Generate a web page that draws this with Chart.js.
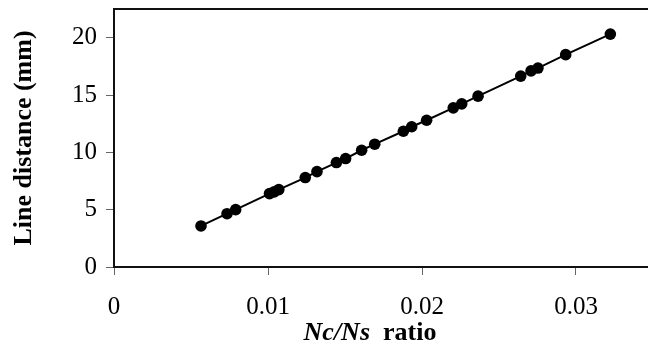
<!DOCTYPE html>
<html>
<head>
<meta charset="utf-8">
<script src="https://cdn.jsdelivr.net/npm/chart.js@4/dist/chart.umd.min.js"></script>
<style>
html,body{margin:0;padding:0;background:#fff;overflow:hidden;}
#wrap{position:relative;width:660px;height:347px;}
canvas{display:block;}
</style>
</head>
<body>
<div id="wrap"><canvas id="c" width="660" height="347"></canvas></div>
<script>
// Data
const ncNsRatio = [0.00565, 0.00734, 0.0079, 0.0101, 0.0104, 0.0107, 0.01242, 0.01318, 0.01444, 0.01504, 0.01608, 0.01693, 0.01879, 0.01933, 0.0203, 0.02203, 0.02258, 0.02364, 0.02641, 0.02708, 0.02753, 0.02933, 0.03223];
const lineDistance = [3.58, 4.65, 5.0, 6.4, 6.55, 6.75, 7.8, 8.32, 9.11, 9.46, 10.18, 10.71, 11.84, 12.23, 12.8, 13.88, 14.23, 14.9, 16.65, 17.1, 17.35, 18.52, 20.31];
const xTicks = [0, 0.01, 0.02, 0.03];
const yTicks = [0, 5, 10, 15, 20];
const xTitleItalic = 'Nc/Ns';
const xTitleBold = 'ratio';
const yTitle = 'Line distance (mm)';

const points = ncNsRatio.map((x, i) => ({x: x, y: lineDistance[i]}));
const serif = '"Liberation Serif", "Times New Roman", serif';

const framePlugin = {
  id: 'frame',
  afterDatasetsDraw(chart) {
    const a = chart.chartArea, ctx = chart.ctx;
    ctx.save();
    ctx.strokeStyle = '#111';
    ctx.lineWidth = 2;
    ctx.strokeRect(a.left, a.top, a.right - a.left, a.bottom - a.top);
    ctx.restore();
  },
  afterDraw(chart) {
    const ctx = chart.ctx;
    ctx.save();
    ctx.fillStyle = '#000';
    ctx.textBaseline = 'alphabetic';
    ctx.textAlign = 'left';
    ctx.font = 'italic bold 26px ' + serif;
    const w1 = ctx.measureText(xTitleItalic).width;
    ctx.font = 'bold 26px ' + serif;
    const w2 = ctx.measureText(xTitleBold).width;
    const gap = 13;
    const total = w1 + gap + w2;
    const cx = 370;
    const x0 = cx - total / 2;
    const base = 340;
    ctx.font = 'italic bold 26px ' + serif;
    ctx.fillText(xTitleItalic, x0, base);
    ctx.font = 'bold 26px ' + serif;
    ctx.fillText(xTitleBold, x0 + w1 + gap, base);
    ctx.restore();
  }
};

function noPad(s) { s.paddingTop = 0; s.paddingBottom = 0; s.paddingLeft = 0; s.paddingRight = 0; }

new Chart(document.getElementById('c'), {
  type: 'scatter',
  data: {
    datasets: [{
      data: points,
      showLine: true,
      borderColor: '#000',
      borderWidth: 2,
      backgroundColor: '#000',
      pointBackgroundColor: '#000',
      pointBorderColor: '#000',
      pointRadius: 5.8,
      pointBorderWidth: 0,
      tension: 0
    }]
  },
  options: {
    responsive: false,
    animation: false,
    layout: {padding: {top: 9, right: 7, left: 0, bottom: 0}},
    plugins: {legend: {display: false}, tooltip: {enabled: false}},
    scales: {
      x: {
        type: 'linear',
        min: 0, max: 0.035,
        afterBuildTicks: s => { s.ticks = xTicks.map(v => ({value: v})); },
        afterFit: s => { s.height = 80; noPad(s); },
        border: {display: false},
        grid: {display: true, drawOnChartArea: false, drawTicks: true, tickLength: 8, color: '#666', lineWidth: 1},
        ticks: {color: '#000', font: {family: serif, size: 25}, padding: 17, maxRotation: 0,
          callback: v => String(v)}
      },
      y: {
        type: 'linear',
        min: 0, max: 22.5,
        afterBuildTicks: s => { s.ticks = yTicks.map(v => ({value: v})); },
        afterFit: s => { s.width = 114; noPad(s); },
        border: {display: false},
        grid: {display: true, drawOnChartArea: false, drawTicks: true, tickLength: 8, color: '#666', lineWidth: 1},
        ticks: {color: '#000', font: {family: serif, size: 25}, padding: 9,
          callback: v => String(v)},
        title: {display: true, text: yTitle, color: '#000', font: {family: serif, size: 26, weight: 'bold'}, padding: {top: 9, bottom: 0}}
      }
    }
  },
  plugins: [framePlugin]
});
</script>
</body>
</html>
